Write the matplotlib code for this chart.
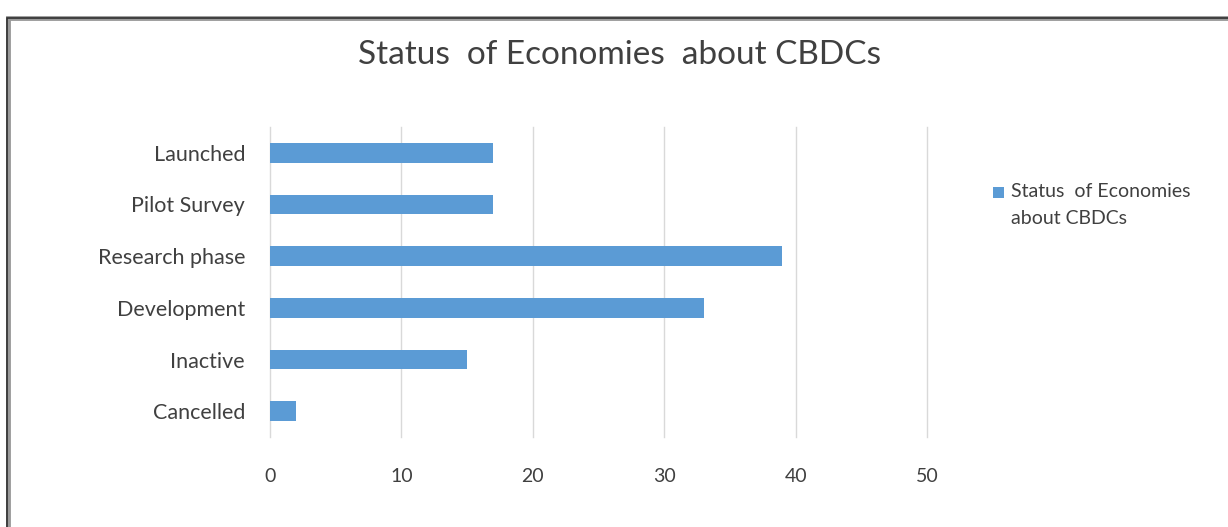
import matplotlib
matplotlib.use("Agg")
import matplotlib.pyplot as plt
from matplotlib.patches import Rectangle

categories = ["Launched", "Pilot Survey", "Research phase", "Development", "Inactive", "Cancelled"]
values = [17, 17, 39, 33, 15, 2]
xticks = [0, 10, 20, 30, 40, 50]
title = "Status  of Economies  about CBDCs"
series_name = "Status  of Economies\nabout CBDCs"

plt.rcParams['font.family'] = ['Lato', 'DejaVu Sans']
text_color = '#404040'
bar_color = '#5b9bd5'

fig = plt.figure(figsize=(12.28, 5.27), dpi=100)
# chart frame
fig.patches.append(Rectangle((8/1228, -0.1), 1.2, 1 - 18/527 + 0.1, transform=fig.transFigure,
                             fill=False, edgecolor='#9a9a9a', linewidth=3.5, zorder=0))
fig.patches.append(Rectangle((7/1228, -0.1), 1.2, 1 - 18/527 + 0.1, transform=fig.transFigure,
                             fill=False, edgecolor='#303030', linewidth=1.2, zorder=1))

ax = fig.add_axes([270/1228, 1 - 437/527, (927 - 270)/1228, (437 - 127)/527])
y = list(range(len(categories)))[::-1]
ax.barh(y, values, height=0.38, color=bar_color, zorder=3)
ax.set_xlim(0, 50)
ax.set_ylim(-0.5, len(categories) - 0.5)
ax.set_yticks(y)
ax.set_yticklabels(categories, fontsize=15.5, color=text_color)
ax.set_xticks(xticks)
ax.set_xticklabels([str(t) for t in xticks], fontsize=14, color=text_color)
ax.tick_params(axis='x', length=0, pad=22)
ax.tick_params(axis='y', length=0, pad=18)
ax.grid(axis='x', color='#d9d9d9', linewidth=1, zorder=0)
for gl in ax.get_xgridlines():
    gl.set_clip_on(False)
for s in ax.spines.values():
    s.set_visible(False)

fig.text(620/1228, 1 - 55/527, title, ha='center', va='center', fontsize=24, color=text_color)

# legend
fig.patches.append(Rectangle((993/1228, 1 - 198/527), 11/1228, 11/527, transform=fig.transFigure,
                             facecolor=bar_color, edgecolor='none'))
fig.text(1011/1228, 1 - 183/527, series_name, ha='left', va='top', fontsize=14,
         color=text_color, linespacing=1.75)

fig.savefig("out.png", dpi=100, facecolor='white')
